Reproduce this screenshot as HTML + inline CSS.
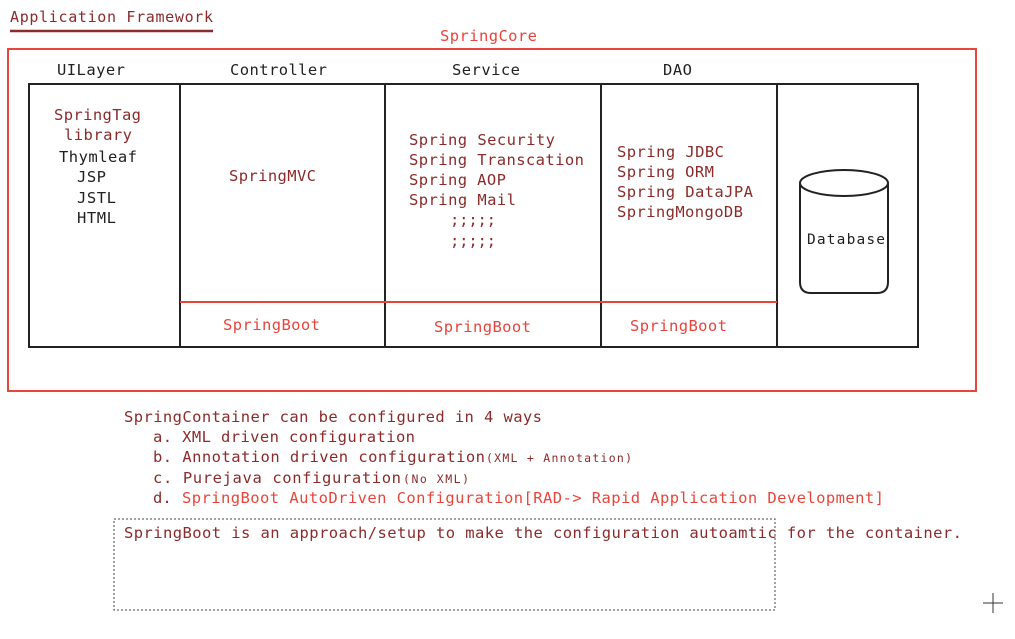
<!DOCTYPE html>
<html><head><meta charset="utf-8"><style>
html,body{margin:0;padding:0;background:#fff;width:1015px;height:639px;overflow:hidden}
svg{display:block}
text{font-family:"DejaVu Sans Mono","Liberation Mono",monospace;font-size:15.5px}
.d{fill:#8b2b2b}.r{fill:#e8453c}.k{fill:#222}
</style></head><body>
<svg width="1015" height="639" viewBox="0 0 1015 639">
<text x="10" y="22" class="d" style="font-size:15px" textLength="203">Application Framework</text>
<line x1="10" y1="31" x2="213" y2="31" stroke="#8b2b2b" stroke-width="2.5"/>
<text x="440" y="41" class="r" textLength="97">SpringCore</text>
<rect x="8" y="49" width="968" height="342" fill="none" stroke="#e8453c" stroke-width="2"/>
<text x="57" y="75" class="k" textLength="68">UILayer</text>
<text x="230" y="75" class="k" textLength="97">Controller</text>
<text x="452" y="75" class="k" textLength="68">Service</text>
<text x="663" y="75" class="k" textLength="29">DAO</text>
<rect x="29" y="84" width="889" height="263" fill="none" stroke="#222" stroke-width="2"/>
<line x1="180" y1="84" x2="180" y2="347" stroke="#222" stroke-width="2"/>
<line x1="385" y1="84" x2="385" y2="347" stroke="#222" stroke-width="2"/>
<line x1="601" y1="84" x2="601" y2="347" stroke="#222" stroke-width="2"/>
<line x1="777" y1="84" x2="777" y2="347" stroke="#222" stroke-width="2"/>
<line x1="180" y1="302" x2="777" y2="302" stroke="#e8453c" stroke-width="2"/>
<text x="54" y="120" class="d" textLength="87">SpringTag</text>
<text x="64" y="140" class="d" textLength="68">library</text>
<text x="59" y="162" class="k" textLength="78">Thymleaf</text>
<text x="77" y="182" class="k" textLength="29">JSP</text>
<text x="77" y="203" class="k" textLength="39">JSTL</text>
<text x="77" y="223" class="k" textLength="39">HTML</text>
<text x="229" y="181" class="d" textLength="87">SpringMVC</text>
<text x="409" y="145" class="d" textLength="146">Spring Security</text>
<text x="409" y="165" class="d" textLength="175">Spring Transcation</text>
<text x="409" y="185" class="d" textLength="97">Spring AOP</text>
<text x="409" y="205" class="d" textLength="107">Spring Mail</text>
<text x="450" y="225" class="d" textLength="46">;;;;;</text>
<text x="450" y="246" class="d" textLength="46">;;;;;</text>
<text x="617" y="157" class="d" textLength="107">Spring JDBC</text>
<text x="617" y="177" class="d" textLength="97">Spring ORM</text>
<text x="617" y="197" class="d" textLength="136">Spring DataJPA</text>
<text x="617" y="217" class="d" textLength="126">SpringMongoDB</text>
<text x="223" y="330" class="r" textLength="97">SpringBoot</text>
<text x="434" y="332" class="r" textLength="97">SpringBoot</text>
<text x="630" y="331" class="r" textLength="97">SpringBoot</text>
<path d="M800 183 L800 282 Q800 293 811 293 L877 293 Q888 293 888 282 L888 183" fill="none" stroke="#222" stroke-width="2"/>
<ellipse cx="844" cy="183" rx="44" ry="13" fill="none" stroke="#222" stroke-width="2"/>
<text x="807" y="244" class="k" style="font-size:14.5px" textLength="78">Database</text>
<g style="font-size:14.5px">
<text x="124" y="422" class="d" textLength="418">SpringContainer can be configured in 4 ways</text>
<text x="153" y="442" class="d" textLength="262">a. XML driven configuration</text>
<text x="153" y="462" class="d" textLength="332">b. Annotation driven configuration</text>
<text x="486" y="462" class="d" style="font-size:11.5px" textLength="146">(XML + Annotation)</text>
<text x="153" y="483" class="d" textLength="248">c. Purejava configuration</text>
<text x="403" y="483" class="d" style="font-size:11.5px" textLength="66">(No XML)</text>
<text x="153" y="503" class="d">d.</text>
<text x="182" y="503" class="r" textLength="702">SpringBoot AutoDriven Configuration[RAD-> Rapid Application Development]</text>
<text x="124" y="538" class="d" textLength="838">SpringBoot is an approach/setup to make the configuration autoamtic for the container.</text>
</g>
<rect x="114" y="519" width="661" height="91" fill="none" stroke="#444" stroke-width="1" stroke-dasharray="2,2"/>
<g stroke="#333" stroke-width="1"><line x1="983" y1="603" x2="1003" y2="603"/><line x1="993" y1="593" x2="993" y2="613"/></g>
</svg>
</body></html>
